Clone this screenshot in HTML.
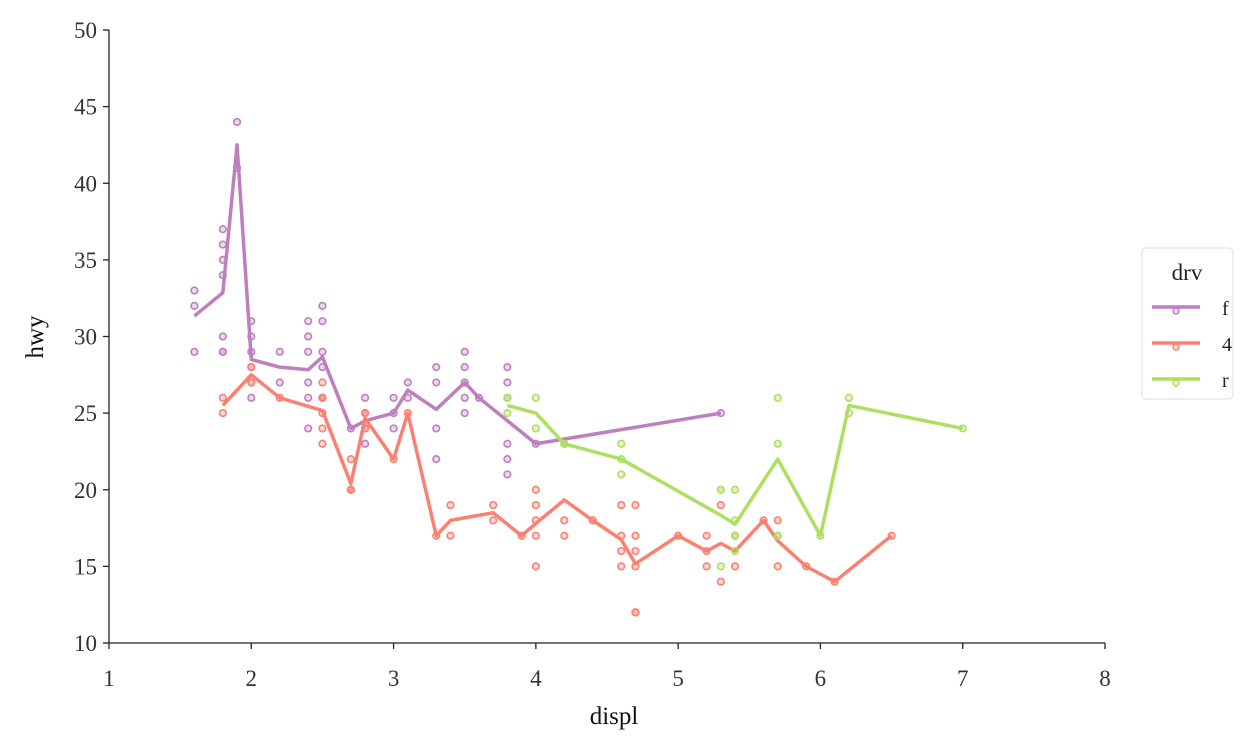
<!DOCTYPE html>
<html><head><meta charset="utf-8"><style>
body{margin:0;background:#fff;}
svg{display:block;font-family:"Liberation Serif",serif;}
</style></head><body>
<svg id="chart" width="1250" height="748">
<g id="axes"></g>
<g id="marks"></g>
<g id="legend"></g>
</svg>
<script>
const seriesNames = ["f","4","r"];
const seriesColors = ["#bf7fbf","#fa8072","#addf60"];
const fDispl = [1.6,1.6,1.6,1.8,1.8,1.8,1.8,1.8,1.8,1.8,1.9,1.9,2.0,2.0,2.0,2.0,2.0,2.0,2.2,2.2,2.4,2.4,2.4,2.4,2.4,2.4,2.5,2.5,2.5,2.5,2.5,2.5,2.7,2.8,2.8,2.8,2.8,3.0,3.0,3.0,3.1,3.1,3.3,3.3,3.3,3.3,3.5,3.5,3.5,3.5,3.5,3.6,3.8,3.8,3.8,3.8,3.8,3.8,4.0,5.3];
const fHwy = [33,32,29,37,36,35,34,30,29,29,44,41,31,30,29,28,27,26,29,27,31,30,29,27,26,24,32,31,29,28,26,26,24,26,25,24,23,26,25,24,27,26,28,27,24,22,29,28,27,26,25,26,28,27,26,23,22,21,23,25];
const d4Displ = [1.8,1.8,2.0,2.0,2.2,2.5,2.5,2.5,2.5,2.5,2.5,2.7,2.7,2.7,2.7,2.7,2.8,2.8,2.8,3.0,3.1,3.3,3.4,3.4,3.7,3.7,3.9,4.0,4.0,4.0,4.0,4.0,4.2,4.2,4.2,4.4,4.6,4.6,4.6,4.6,4.7,4.7,4.7,4.7,4.7,4.7,5.0,5.2,5.2,5.2,5.3,5.3,5.4,5.4,5.6,5.7,5.7,5.7,5.9,6.1,6.5];
const d4Hwy = [26,25,28,27,26,27,26,26,25,24,23,22,20,20,20,20,25,24,25,22,25,17,19,17,19,18,17,20,19,18,17,15,23,18,17,18,19,17,16,15,19,17,16,15,12,12,17,17,16,15,19,14,17,15,18,18,17,15,15,14,17];
const rDispl = [3.8,3.8,4.0,4.0,4.2,4.6,4.6,4.6,5.3,5.3,5.3,5.4,5.4,5.4,5.4,5.7,5.7,5.7,6.0,6.2,6.2,7.0];
const rHwy = [26,25,26,24,23,23,22,21,20,20,15,20,18,17,16,26,23,17,17,26,25,24];
const seriesX = [fDispl,d4Displ,rDispl];
const seriesY = [fHwy,d4Hwy,rHwy];
const xTicks = [1,2,3,4,5,6,7,8];
const yTicks = [10,15,20,25,30,35,40,45,50];

const NS="http://www.w3.org/2000/svg";
const X0=109,X1=1105,Y0=643,Y1=30;
const xs=v=>X0+(v-1)/7*(X1-X0);
const ys=v=>Y0-(v-10)/40*(Y0-Y1);
function mk(t,a,p){const e=document.createElementNS(NS,t);for(const k in a)e.setAttribute(k,a[k]);p.appendChild(e);return e;}
const axes=document.getElementById('axes'),marks=document.getElementById('marks'),leg=document.getElementById('legend');
let e=mk('line',{x1:X0,y1:Y0,x2:X1,y2:Y0,stroke:'#222','stroke-width':1.3},axes);

e=mk('line',{x1:X0,y1:Y0,x2:X0,y2:Y1,stroke:'#222','stroke-width':1.3},axes);

xTicks.forEach(t=>{mk('line',{x1:xs(t),x2:xs(t),y1:Y0,y2:Y0+6,stroke:'#222','stroke-width':1.3},axes);
 const tx=mk('text',{x:xs(t),y:Y0+43,'text-anchor':'middle','font-size':23,fill:'#333'},axes);tx.textContent=t;
 });
yTicks.forEach(t=>{mk('line',{x1:X0-6,x2:X0,y1:ys(t),y2:ys(t),stroke:'#222','stroke-width':1.3},axes);
 const tx=mk('text',{x:X0-12,y:ys(t)+8,'text-anchor':'end','font-size':23,fill:'#333'},axes);tx.textContent=t;
 });
e=mk('text',{x:614,y:724,'text-anchor':'middle','font-size':25,fill:'#111'},axes);e.textContent='displ';

e=mk('text',{x:0,y:0,'text-anchor':'middle','font-size':25,fill:'#111',transform:'translate(43,337) rotate(-90)'},axes);e.textContent='hwy';


seriesNames.forEach((n,i)=>{
 const X=seriesX[i],Y=seriesY[i],c=seriesColors[i];
 const g=mk('g',{},marks);
 
 const m={};X.forEach((x,j)=>{(m[x]=m[x]||[]).push(Y[j]);});
 const keys=Object.keys(m).map(Number).sort((a,b)=>a-b);
 const pts=keys.map(k=>xs(k)+','+ys(m[k].reduce((a,b)=>a+b,0)/m[k].length)).join(' ');
 const pl=mk('polyline',{points:pts,fill:'none',stroke:c,'stroke-width':3.5,'stroke-linejoin':'round'},g);
 
 X.forEach((x,j)=>{const p=mk('circle',{cx:xs(x),cy:ys(Y[j]),r:3.3,fill:c,'fill-opacity':0.3,stroke:c,'stroke-width':1.6},g);
  });
});
e=mk('rect',{x:1142,y:248,width:91,height:151,rx:4,fill:'#fff',stroke:'#ddd'},leg);

e=mk('text',{x:1187,y:280,'text-anchor':'middle','font-size':23,fill:'#222'},leg);e.textContent='drv';

seriesNames.forEach((n,i)=>{const y=307+i*36,c=seriesColors[i];
 const g=mk('g',{},leg);
 mk('line',{x1:1152,x2:1200,y1:y,y2:y,stroke:c,'stroke-width':3.5},g);
 mk('circle',{cx:1176,cy:y+4,r:3,fill:c,'fill-opacity':0.3,stroke:c,'stroke-width':1.4},g);
 const t=mk('text',{x:1222,y:y+8,'font-size':20,fill:'#222'},g);t.textContent=n;});
</script>
</body></html>
